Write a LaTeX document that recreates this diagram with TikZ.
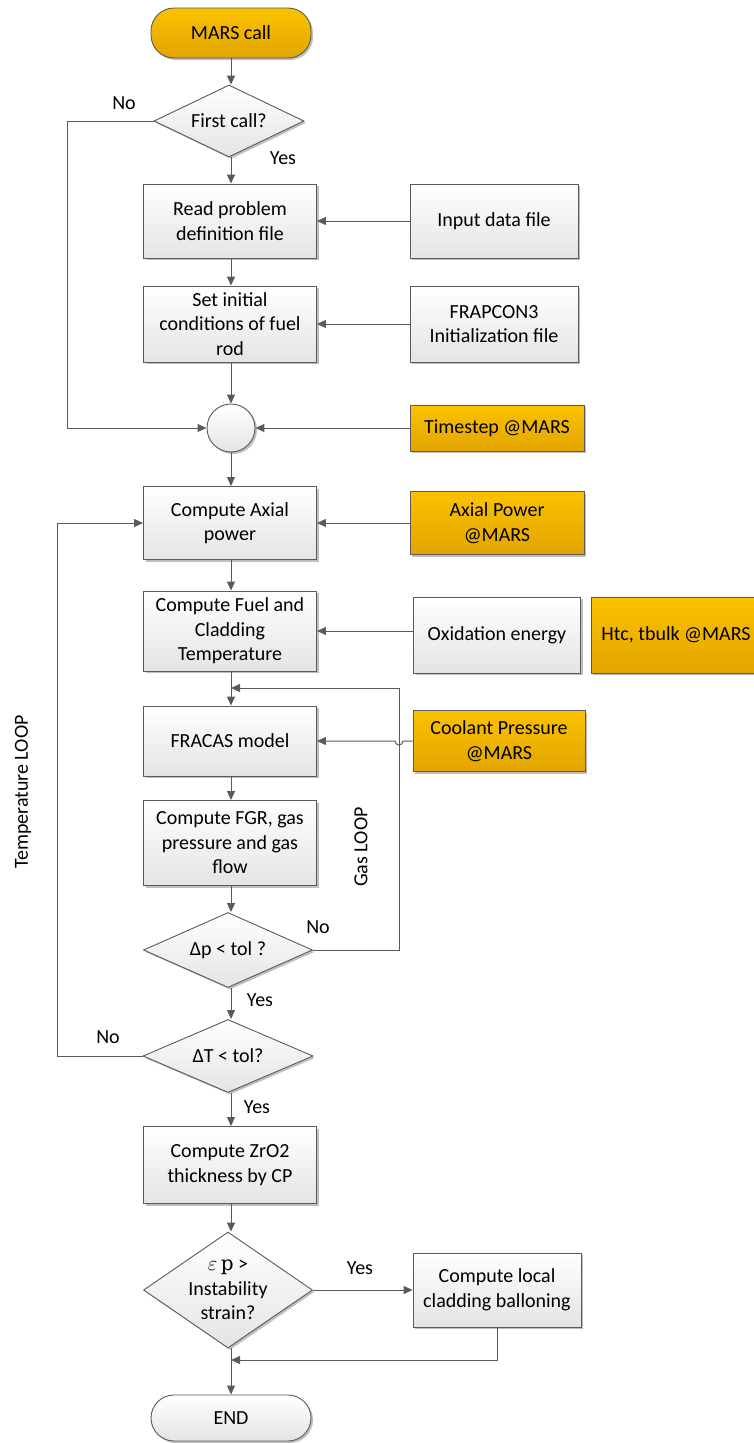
\documentclass[tikz,border=0pt]{standalone}
\usepackage{fontspec}
\setmainfont{Carlito}
\usetikzlibrary{shapes.geometric,arrows.meta,shadows}
\definecolor{ln}{HTML}{5A5A5A}
\definecolor{orT}{HTML}{FBC200}
\definecolor{orB}{HTML}{E2A500}
\definecolor{gyB}{HTML}{E4E4E4}
\begin{document}
\begin{tikzpicture}[x=1pt,y=-1pt,
  font=\fontsize{20}{24.5}\selectfont,
  shd/.style={drop shadow={shadow xshift=2pt,shadow yshift=-2pt,opacity=0.25,fill=black}},
  gbox/.style={rectangle,draw=ln,line width=0.9pt,top color=white,bottom color=gyB,shd,
    align=center,inner sep=2pt},
  obox/.style={rectangle,draw=ln,line width=0.9pt,top color=orT,bottom color=orB,shd,
    align=center,inner sep=2pt},
  dia/.style={diamond,draw=ln,line width=0.9pt,top color=white,bottom color=gyB,shd,
    align=center,inner sep=0pt,aspect=2.2},
  term/.style={rectangle,rounded corners=23pt,draw=ln,line width=0.9pt,shd,
    minimum width=160,align=center},
  arr/.style={draw=ln,line width=1pt,-{Triangle[length=9pt,width=8pt]}},
  lbl/.style={inner sep=0pt}
]
\useasboundingbox (0,0) rectangle (753,1443);

% main column
\node[term,top color=orT,bottom color=orB,minimum height=50] (mars) at (231,33) {MARS call};
\node[dia,minimum width=150,minimum height=72] (first) at (229,121) {First call?};
\node[gbox,minimum width=173,minimum height=74] (read) at (230,221) {Read problem\\definition file};
\node[gbox,minimum width=173,minimum height=76] (setinit) at (230,324) {Set initial\\conditions of fuel\\rod};
\node[circle,draw=ln,line width=0.9pt,top color=white,bottom color=gyB,shd,minimum size=48,inner sep=0pt] (circ) at (231,428) {};
\node[gbox,minimum width=173,minimum height=73] (axial) at (230,523) {Compute Axial\\power};
\node[gbox,minimum width=173,minimum height=80] (fuel) at (230,631) {Compute Fuel and\\Cladding\\Temperature};
\node[gbox,minimum width=173,minimum height=70] (fracas) at (230,741) {FRACAS model};
\node[gbox,minimum width=173,minimum height=85] (fgr) at (230,843) {Compute FGR, gas\\pressure and gas\\flow};
\node[dia,minimum width=169,minimum height=75] (dp) at (228,950) {Δp < tol ?};
\node[dia,minimum width=170,minimum height=73] (dt) at (228,1056) {ΔT < tol?};
\node[gbox,minimum width=173,minimum height=77] (zro) at (230,1165) {Compute ZrO2\\thickness by CP};
\node[dia,aspect=1.46,inner xsep=-16pt,inner ysep=-14pt,minimum width=169,minimum height=116] (eps) at (228,1290) {$\varepsilon$\,{\fontspec{DejaVu Serif}p} >\\Instability\\strain?};
\node[term,top color=white,bottom color=gyB,minimum height=46] (endn) at (231,1418) {END};

% right column
\node[gbox,minimum width=168,minimum height=74] (input) at (494,221) {Input data file};
\node[gbox,minimum width=168,minimum height=76] (frap) at (494,324) {FRAPCON3\\Initialization file};
\node[obox,minimum width=174,minimum height=46] (tstep) at (497,428) {Timestep @MARS};
\node[obox,minimum width=174,minimum height=63] (axpow) at (497,523) {Axial Power\\@MARS};
\node[gbox,minimum width=167,minimum height=76] (oxid) at (497,635) {Oxidation energy};
\node[obox,minimum width=170,minimum height=76] (htc) at (676,635) {Htc, tbulk @MARS};
\node[obox,minimum width=172,minimum height=61] (cool) at (499,741) {Coolant Pressure\\@MARS};
\node[gbox,minimum width=168,minimum height=74] (ball) at (497,1290) {Compute local\\cladding balloning};

% vertical chain
\draw[arr] (mars.south) -- (mars.south |- first.north);
\draw[arr] (mars.south |- first.south) -- (mars.south |- read.north);
\draw[arr] (mars.south |- read.south) -- (mars.south |- setinit.north);
\draw[arr] (mars.south |- setinit.south) -- (circ.north);
\draw[arr] (circ.south) -- (circ.south |- axial.north);
\draw[arr] (circ.south |- axial.south) -- (circ.south |- fuel.north);
\draw[arr] (circ.south |- fuel.south) -- (circ.south |- fracas.north);
\draw[arr] (circ.south |- fracas.south) -- (circ.south |- fgr.north);
\draw[arr] (circ.south |- fgr.south) -- (circ.south |- dp.north);
\draw[arr] (circ.south |- dp.south) -- (circ.south |- dt.north);
\draw[arr] (circ.south |- dt.south) -- (circ.south |- zro.north);
\draw[arr] (circ.south |- zro.south) -- (circ.south |- eps.north);
\draw[arr] (circ.south |- eps.south) -- (endn.north);

% side inputs
\draw[arr] (input.west) -- (read.east);
\draw[arr] (frap.west) -- (setinit.east);
\draw[arr] (tstep.west) -- (circ.east);
\draw[arr] (axpow.west) -- (axial.east);
\draw[arr] (oxid.west |- fuel.east) -- (fuel.east);
\draw[arr] (cool.west) -- (403,741) arc[start angle=0,end angle=180,radius=4] -- (fracas.east);

% first call No branch
\draw[arr] (first.west) -- (67,121) |- (circ.west);
\node[lbl] at (124,103) {No};
\node[lbl] at (283,158) {Yes};

% gas loop
\coordinate (gj) at (231,688);
\draw[arr] (dp.east) -- (399,950) -- (399,688) -- (gj);
\node[lbl] at (318,927) {No};
\node[lbl] at (260,1000) {Yes};
\node[lbl,rotate=90] at (361,847) {Gas LOOP};

% temperature loop
\draw[arr] (dt.west) -- (57,1056) |- (axial.west);
\node[lbl] at (108,1037) {No};
\node[lbl] at (257,1107) {Yes};
\node[lbl,rotate=90] at (23,792) {Temperature LOOP};

% instability branch
\draw[arr] (eps.east) -- (ball.west);
\node[lbl] at (360,1268) {Yes};
\coordinate (mj) at (231,1360);
\draw[arr] (ball.south) -- (497,1360) -- (mj);
\end{tikzpicture}
\end{document}
